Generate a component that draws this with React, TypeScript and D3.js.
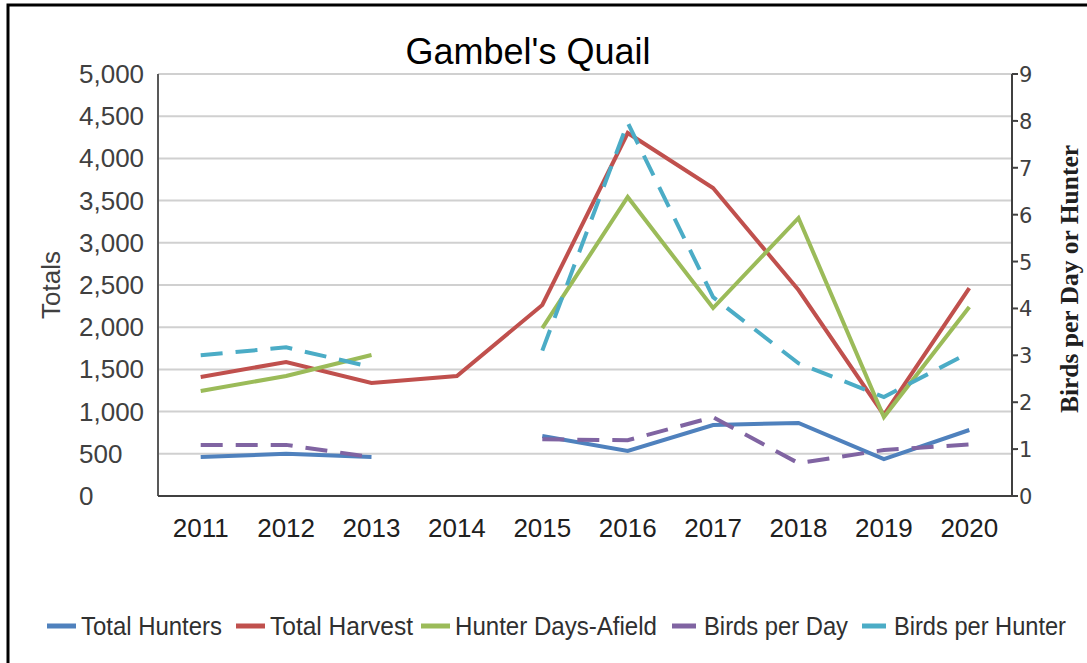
import React from 'react';
import * as d3 from 'd3';

const years = ['2011', '2012', '2013', '2014', '2015', '2016', '2017', '2018', '2019', '2020'];
const totalHunters = [462, 500, 462, null, 711, 533, 841, 865, 438, 782];
const totalHarvest = [1410, 1588, 1339, 1422, 2263, 4301, 3649, 2440, 960, 2464];
const hunterDays = [1244, 1422, 1671, null, 1990, 3543, 2227, 3294, 936, 2240];
const birdsPerDay = [1.09, 1.09, 0.83, null, 1.21, 1.19, 1.68, 0.7, 0.98, 1.1];
const birdsPerHunter = [3.0, 3.17, 2.75, null, 3.1, 7.96, 4.24, 2.83, 2.11, 3.06];

const leftTicks = [0, 500, 1000, 1500, 2000, 2500, 3000, 3500, 4000, 4500, 5000];
const rightTicks = [0, 1, 2, 3, 4, 5, 6, 7, 8, 9];

const series = [
  { name: 'Total Hunters', values: totalHunters, color: '#4F81BD', axis: 'left', dashed: false },
  { name: 'Total Harvest', values: totalHarvest, color: '#C0504D', axis: 'left', dashed: false },
  { name: 'Hunter Days-Afield', values: hunterDays, color: '#9BBB59', axis: 'left', dashed: false },
  { name: 'Birds per Day', values: birdsPerDay, color: '#8064A2', axis: 'right', dashed: true },
  { name: 'Birds per Hunter', values: birdsPerHunter, color: '#4BACC6', axis: 'right', dashed: true },
];

const W = 1087;
const H = 663;
const plot = { left: 158, right: 1012, top: 74, bottom: 496 };

// legend positions (marker start, text width)
const legendX = [47, 236, 421, 672, 862];
const legendTextW = [141, 143, 202, 144, 172];

export default function App() {
  const x = d3.scalePoint<string>().domain(years).range([plot.left, plot.right]).padding(0.5);
  const yL = d3.scaleLinear().domain([0, 5000]).range([plot.bottom, plot.top]);
  const yR = d3.scaleLinear().domain([0, 9]).range([plot.bottom, plot.top]);
  const fmt = d3.format(',');
  const sans = "'Liberation Sans', Arial, sans-serif";

  return (
    <svg width={W} height={H} style={{ position: 'absolute', left: 0, top: 0, background: '#fff' }}>
      <rect x={8} y={5} width={W + 20} height={H + 20} fill="#fff" stroke="#000" strokeWidth={3} />

      <text x={528} y={64} textAnchor="middle" fontFamily={sans} fontSize={36} fill="#000">
        Gambel's Quail
      </text>

      {leftTicks.filter(t => t > 0).map(t => (
        <line key={'g' + t} x1={plot.left} x2={plot.right} y1={yL(t)} y2={yL(t)} stroke="#d0d0d0" strokeWidth={2} />
      ))}

      <line x1={plot.left} x2={plot.left} y1={plot.top} y2={plot.bottom} stroke="#595959" strokeWidth={2} />
      <line x1={plot.left} x2={plot.right} y1={plot.bottom} y2={plot.bottom} stroke="#404040" strokeWidth={2} />
      <line x1={plot.right} x2={plot.right} y1={plot.top} y2={plot.bottom} stroke="#404040" strokeWidth={2} />

      {leftTicks.map(t => (
        <text key={'l' + t} x={79} y={yL(t) + 9} fontFamily={sans} fontSize={26} fill="#404040">
          {fmt(t)}
        </text>
      ))}

      {rightTicks.map(t => (
        <g key={'r' + t}>
          <line x1={plot.right} x2={plot.right + 6} y1={yR(t)} y2={yR(t)} stroke="#404040" strokeWidth={2} />
          <text x={plot.right + 7} y={yR(t) + 8} fontFamily="'DejaVu Sans', Verdana, sans-serif" fontSize={21} fill="#404040">
            {t}
          </text>
        </g>
      ))}

      {years.map(yr => (
        <text key={yr} x={x(yr)} y={537} textAnchor="middle" fontFamily={sans} fontSize={26} fill="#202020">
          {yr}
        </text>
      ))}

      <text transform={`translate(60,285) rotate(-90)`} textAnchor="middle" fontFamily={sans} fontSize={26} fill="#404040">
        Totals
      </text>
      <text transform={`translate(1078,279) rotate(-90)`} textAnchor="middle" fontFamily="'Liberation Serif', 'Times New Roman', serif" fontWeight="bold" fontSize={25.5} fill="#202020">
        Birds per Day or Hunter
      </text>

      {series.map(s => {
        const yS = s.axis === 'left' ? yL : yR;
        const line = d3.line<number | null>()
          .defined(d => d != null)
          .x((_, i) => x(years[i]) as number)
          .y(d => yS(d as number));
        return (
          <path
            key={s.name}
            d={line(s.values) || ''}
            fill="none"
            stroke={s.color}
            strokeWidth={4}
            strokeDasharray={s.dashed ? '22,13' : undefined}
          />
        );
      })}

      {series.map((s, i) => (
        <g key={'lg' + s.name} transform={`translate(${legendX[i]},626)`}>
          <line x1={0} x2={s.dashed ? 24 : 29} y1={0} y2={0} stroke={s.color} strokeWidth={5} />
          <text
            x={s.dashed ? 32 : 34}
            y={9}
            fontFamily={sans}
            fontSize={25}
            fill="#303030"
            textLength={legendTextW[i]}
            lengthAdjust="spacingAndGlyphs"
          >
            {s.name}
          </text>
        </g>
      ))}
    </svg>
  );
}
